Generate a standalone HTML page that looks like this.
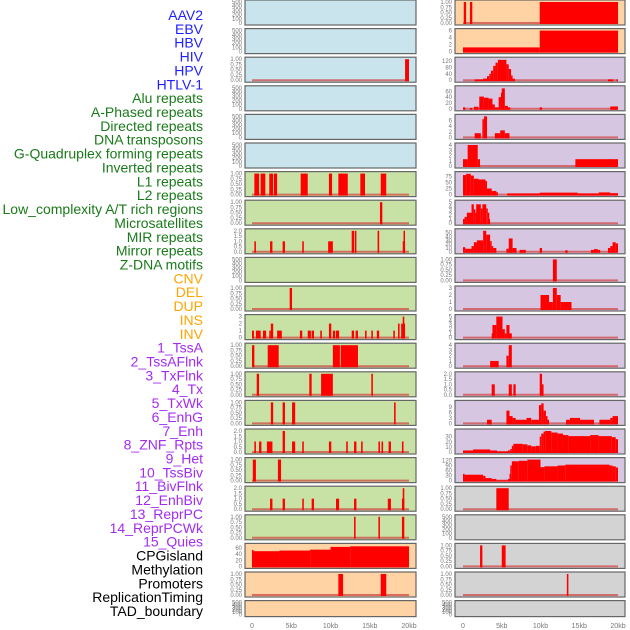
<!DOCTYPE html>
<html><head><meta charset="utf-8"><style>
html,body{margin:0;padding:0;background:#fff;width:630px;height:630px;overflow:hidden}
svg{display:block}
text{font-family:"Liberation Sans",sans-serif}
</style></head><body>
<svg id="c" width="630" height="630"></svg>
<script>
const labels = ["AAV2","EBV","HBV","HIV","HPV","HTLV-1","Alu repeats","A-Phased repeats","Directed repeats","DNA transposons","G-Quadruplex forming repeats","Inverted repeats","L1 repeats","L2 repeats","Low_complexity A/T rich regions","Microsatellites","MIR repeats","Mirror repeats","Z-DNA motifs","CNV","DEL","DUP","INS","INV","1_TssA","2_TssAFlnk","3_TxFlnk","4_Tx","5_TxWk","6_EnhG","7_Enh","8_ZNF_Rpts","9_Het","10_TssBiv","11_BivFlnk","12_EnhBiv","13_ReprPC","14_ReprPCWk","15_Quies","CPGisland","Methylation","Promoters","ReplicationTiming","TAD_boundary"];
const labelGroups = [6,13,5,15,5];
const groupColors = ["#1f1fff","#1a7a1a","#ffa500","#a32cf0","#000000"];
const xTicks = [0,5,10,15,20];
const xTickLabels = ["0","5kb","10kb","15kb","20kb"];
const T_EMPTY=[0,100,200,300,400,500], T_01=[0,0.25,0.5,0.75,1], T_02=[0,0.5,1,1.5,2];
// ---- left column data: [startKb,endKb,value]
const L_hiv=[[19.5,20,1]];
const L_l1=[[0.3,0.9,1],[1.1,1.7,1],[2.2,2.7,1],[2.8,3.2,1],[6.2,7.1,1],[9.8,10.2,1],[11,12.2,1],[13.8,14.4,1],[16.4,17.1,1]];
const L_l2=[[16.3,16.6,1]];
const L_lowc=[[0.3,0.5,1],[2.3,2.6,1],[3.9,4.2,1],[6.4,6.6,1],[9.7,10.3,1],[12.7,13,2],[13.1,13.3,2],[16,16.2,2],[19.2,19.5,1],[19.3,19.45,2]];
const L_mir=[[4.8,5.1,1]];
const L_mirror=[[0,0.25,1],[0.5,1.1,1],[1.4,1.8,1],[2.2,2.4,1],[2.4,2.7,2],[3.2,3.8,1],[6.1,6.4,1],[7.1,7.5,1],[7.6,7.9,1],[8.7,8.9,1],[9.8,10.1,2],[10.3,10.6,1],[10.7,11.1,1],[12.7,13,1],[13.2,13.5,1],[14.4,14.6,1],[15.2,15.4,1],[15.9,16.2,1],[18,18.2,1],[18.6,18.8,2],[19,19.5,2],[19.2,19.4,3]];
const L_tssa=[[0,0.3,1],[2,3.4,1],[10.3,11.2,1],[11.3,13.5,1]];
const L_tssaf=[[0.6,0.9,1],[7.3,7.6,1],[8.8,10.3,1],[15.2,15.4,1]];
const L_txf=[[2.4,2.7,1],[3.9,4.2,1],[5.1,5.5,1],[18.1,18.3,1]];
const L_tx=[[0.3,0.5,1],[0.9,1.2,1],[1.9,2.6,1],[3.9,4.2,2],[5.1,5.5,1],[6.4,6.6,1],[9.8,10.1,1],[12,12.2,1],[13,13.3,1],[13.9,14.1,1],[16.1,16.3,1],[16.5,16.7,1],[17.4,17.7,1],[19.1,19.3,1]];
const L_txwk=[[0.1,0.5,1],[3.3,3.7,1]];
const L_enhg=[[2.3,2.6,1],[3.9,4.2,1],[6.4,6.6,1],[7.6,7.9,1],[10.7,11.1,1],[13,13.3,1],[17.3,17.7,1],[19.1,19.4,1],[19.2,19.4,2]];
const L_enh=[[13,13.2,1],[16.1,16.3,1],[19.1,19.4,1]];
const L_cpg=[[0,0.15,54],[0.15,3.5,50],[3.5,7.4,52],[7.4,10,55],[10,12.5,64],[12.5,20,66]];
const L_meth=[[11,11.6,1],[16.4,17.1,1]];
// ---- right column data
const R_aav2=[[0.1,0.4,1],[0.9,1.2,1],[9.9,20,1]];
const R_ebv=[[0,9.9,1.2],[9.9,20,6]];
const R_hpv=[[1.5,2.6,5],[2.6,3.1,10],[3.1,3.4,25],[3.4,3.6,40],[3.6,3.9,60],[3.9,4.2,90],[4.2,4.5,110],[4.5,5.6,128],[5.6,5.9,100],[5.9,6.2,70],[6.2,6.4,30],[6.4,6.7,10],[18.7,19.4,5],[19.8,20,5]];
const R_alu=[[0,0.3,5],[0.9,1.2,3],[1.4,2.0,7],[2.1,2.7,42],[2.7,3.3,38],[3.3,3.8,35],[3.8,4.1,15],[4.1,4.6,5],[4.6,4.9,40],[4.9,5.0,55],[5.0,5.4,70],[5.4,5.8,10],[5.8,6.1,5],[9.9,10.2,5],[19.0,20,8]];
const R_aph=[[1.5,2.3,1.5],[2.5,2.7,6.5],[2.7,3.1,7.5],[4.1,4.8,1.5],[4.8,5.4,2.5],[5.4,6.0,1.5]];
const R_dir=[[0,0.6,1.3],[0.6,1.9,4],[1.9,2.2,1.3],[14.5,20,1.3]];
const R_dna=[[0,0.4,80],[0.4,1.0,85],[1.0,1.4,78],[1.4,2.0,65],[2.0,2.9,62],[2.9,3.1,55],[3.1,3.7,25],[3.7,4.3,15],[4.3,4.5,10],[5.7,9.9,5],[9.9,14.8,8],[14.8,17.5,5],[17.5,19,9],[19,20,6]];
const R_gq=[[0,0.2,1],[0.2,0.5,1.5],[0.5,1.1,2.5],[1.1,1.4,4.5],[1.4,1.6,3.3],[1.6,1.7,2.5],[1.7,2.3,4.5],[2.3,2.5,3.5],[2.5,3.0,4.5],[3.0,3.2,3.5],[3.2,3.3,2.5],[3.3,3.4,1]];
const R_inv=[[0,0.3,12],[0.3,1.1,8],[1.1,1.4,15],[1.4,1.8,25],[1.8,2.6,30],[2.6,3.0,55],[3.0,3.5,45],[3.5,3.7,28],[3.7,3.9,15],[3.9,4.3,10],[5.6,5.9,8],[5.9,6.4,35],[6.4,6.9,10],[7.3,8.1,5],[9.9,10.2,10],[13.2,13.5,4],[16.5,16.9,5],[16.9,17.4,7],[17.4,17.7,5],[18.7,19.0,10],[19.0,19.3,15],[19.3,19.7,25],[19.7,20,22]];
const R_l1=[[11.6,12.1,1]];
const R_l2=[[10,11.1,2],[11.1,11.6,1],[11.6,12.1,3],[12.1,12.6,2],[12.6,12.9,1],[12.9,14.0,1]];
const R_lowc=[[3.7,3.8,1],[3.8,4.3,3],[4.3,5.1,5],[5.1,5.4,2],[5.4,5.6,1],[5.6,6.0,3],[6.0,6.3,1]];
const R_micro=[[3.5,4.6,1],[5.6,5.9,2],[5.9,6.3,4]];
const R_mir=[[3.7,4.1,1],[5.9,6.3,1],[6.5,6.8,1],[9.9,10.2,2],[10.2,10.35,1]];
const R_mirror=[[3.1,3.7,2],[5.6,6.0,7],[6.0,6.4,4],[6.4,6.8,3],[6.8,8.2,2],[8.2,8.8,3],[8.8,9.8,2],[9.8,10.1,10],[10.1,10.4,11],[10.4,10.7,7],[10.7,10.9,4],[10.9,11.1,2],[13.3,13.8,2],[13.8,15.1,3],[15.1,16.9,2],[17.6,19.0,2],[19.0,19.3,3],[19.3,20,4]];
const R_zdna=[[0,1.3,3],[1.3,3.5,5],[3.5,4.4,3],[4.4,5.8,1],[5.8,6.1,3],[6.1,6.3,6],[6.3,6.5,12],[6.5,7.7,16],[7.7,8.3,15],[8.3,8.8,13],[8.8,9.4,11],[9.4,9.9,12],[9.9,10.1,30],[10.1,10.4,36],[10.4,10.6,40],[10.6,11.4,41],[11.4,12.2,38],[12.2,12.9,36],[12.9,13.6,33],[13.6,16.4,31],[16.4,17.5,33],[17.5,19.2,31],[19.2,19.7,29],[19.7,20,25]];
const R_cnv=[[0,0.2,40],[0.2,2.6,35],[2.6,2.9,28],[2.9,3.7,15],[3.7,4.3,10],[4.3,5.8,2],[5.8,6.0,10],[6.0,6.1,40],[6.1,6.3,90],[6.3,7.2,115],[7.2,8.3,118],[8.3,10.0,125],[10.0,10.5,80],[10.5,12.2,85],[12.2,13.2,90],[13.2,18.9,95],[18.9,19.3,90],[19.3,19.7,85],[19.7,20,78]];
const R_del=[[4.3,5.9,1]];
const R_ins=[[2.2,2.5,1],[5.0,5.5,1]];
const R_inv2=[[13.4,13.6,1]];
const BLUE="#c9e4ec",GREEN="#c8e1a4",PEACH="#ffd3a3",PURP="#d7c6e1",GRAY="#d3d3d3";
const leftPanels=[
 {bg:BLUE,t:T_EMPTY,d:null},{bg:BLUE,t:T_EMPTY,d:null},{bg:BLUE,t:T_01,d:L_hiv},{bg:BLUE,t:T_EMPTY,d:null},{bg:BLUE,t:T_EMPTY,d:null},{bg:BLUE,t:T_EMPTY,d:null},
 {bg:GREEN,t:T_01,d:L_l1},{bg:GREEN,t:T_01,d:L_l2},{bg:GREEN,t:T_02,d:L_lowc},{bg:GREEN,t:T_EMPTY,d:null},{bg:GREEN,t:T_01,d:L_mir},{bg:GREEN,t:[0,1,2,3],d:L_mirror},
 {bg:GREEN,t:T_01,d:L_tssa},{bg:GREEN,t:T_01,d:L_tssaf},{bg:GREEN,t:T_01,d:L_txf},{bg:GREEN,t:T_02,d:L_tx},{bg:GREEN,t:T_01,d:L_txwk},{bg:GREEN,t:T_02,d:L_enhg},{bg:GREEN,t:T_01,d:L_enh},
 {bg:PEACH,t:[0,20,40,60],d:L_cpg,max:69},{bg:PEACH,t:T_01,d:L_meth},{bg:PEACH,t:T_EMPTY,d:null}];
const rightPanels=[
 {bg:PEACH,t:T_01,d:R_aav2},{bg:PEACH,t:[0,2,4,6],d:R_ebv},
 {bg:PURP,t:[0,40,80,120],d:R_hpv,max:132},{bg:PURP,t:[0,20,40,60],d:R_alu,max:72},{bg:PURP,t:[0,2,4,6],d:R_aph,max:7.5},{bg:PURP,t:[0,1,2,3,4],d:R_dir},
 {bg:PURP,t:[0,25,50,75],d:R_dna,max:86},{bg:PURP,t:[0,1,2,3,4,5],d:R_gq},{bg:PURP,t:[0,10,20,30,40,50],d:R_inv,max:55},{bg:PURP,t:T_01,d:R_l1},
 {bg:PURP,t:[0,1,2,3],d:R_l2},{bg:PURP,t:[0,1,2,3,4,5],d:R_lowc},{bg:PURP,t:[0,1,2,3,4],d:R_micro},{bg:PURP,t:T_02,d:R_mir},
 {bg:PURP,t:[0,3,6,9],d:R_mirror,max:11.5},{bg:PURP,t:[0,10,20,30],d:R_zdna,max:41},{bg:PURP,t:[0,30,60,90,120],d:R_cnv,max:125},
 {bg:GRAY,t:T_01,d:R_del},{bg:GRAY,t:T_EMPTY,d:null},{bg:GRAY,t:T_01,d:R_ins},{bg:GRAY,t:T_01,d:R_inv2},{bg:GRAY,t:T_EMPTY,d:null}];
const NS="http://www.w3.org/2000/svg";
const svg=document.getElementById("c");
function el(tag,attrs,parent){const e=document.createElementNS(NS,tag);for(const k in attrs)e.setAttribute(k,attrs[k]);(parent||svg).appendChild(e);return e;}
// labels
let gi=0,cnt=0;
labels.forEach((s,i)=>{
 while(cnt>=labelGroups[gi]){cnt-=labelGroups[gi];gi++;}
 const t=el("text",{x:203,y:15+i*13.86+5,"text-anchor":"end","font-size":"14",fill:groupColors[gi]});
 
 
 t.textContent=s;cnt++;
});
function fmt(t,v){
 if(t===T_01)return v.toFixed(2);
 if(t===T_02)return v.toFixed(1);
 return String(v);
}
function drawCol(panels,px,pw,x0,x1,name){
 const xs=kb=>x0+(x1-x0)*kb/20;
 panels.forEach((p,i)=>{
  const top=i*28.6, h=(i===21)?16:25, bot=top+h;
  const g=el("g",{});
  
  
  const r=el("rect",{x:px,y:top,width:pw,height:h,fill:p.bg,stroke:"#666","stroke-width":1.2},g);
  
  
  const ymax=p.max||p.t[p.t.length-1];
  const ys=v=>bot-2-(v/ymax)*(h-4);
  p.t.forEach(v=>{
   const tt=el("text",{x:px-3,y:ys(v)+2,"text-anchor":"end","font-size":(p.t===T_EMPTY?"6":"6"),fill:"#777"},g);
   
   
   tt.textContent=fmt(p.t,v);
  });
  if(p.d){
   const bl=el("line",{x1:xs(0),x2:xs(20),y1:ys(0),y2:ys(0),stroke:"#d04040","stroke-width":2,"stroke-opacity":0.7},g);
   
   
   p.d.forEach(s=>{
    const y=Math.max(top+0.5,ys(s[2]));
    const b=el("rect",{x:xs(s[0]),y:y,width:Math.max(1.5,xs(s[1])-xs(s[0])),height:ys(0)-y+1,fill:"#ff0000"},g);
    
    
   });
  }
 });
 xTicks.forEach((v,k)=>{
  const t=el("text",{x:xs(v),y:628,"text-anchor":"middle","font-size":"7",fill:"#777"});
  
  
  t.textContent=xTickLabels[k];
 });
}
drawCol(leftPanels,245,171,252,409,'left');
drawCol(rightPanels,455,170,463,618,'right');
</script>
</body></html>
